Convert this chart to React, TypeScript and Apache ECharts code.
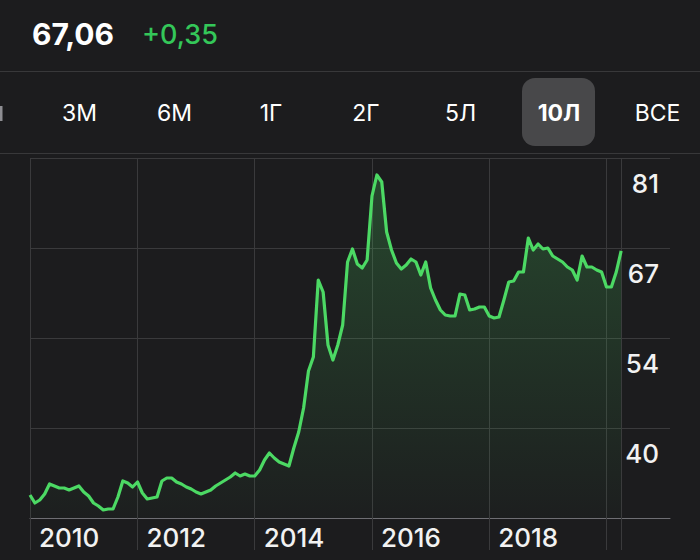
import React, { useEffect, useRef } from "react";
import * as echarts from "echarts";

// Months from 2010-03 to 2021-02 (data runs to 2020-04, axis space continues to the right)
const START_YEAR = 2010;
const START_MONTH = 3;
const MONTH_COUNT = 132;
const months: string[] = [];
for (let i = 0; i < MONTH_COUNT; i++) {
  const m = START_MONTH - 1 + i;
  const y = START_YEAR + Math.floor(m / 12);
  const mo = (m % 12) + 1;
  months.push(`${y}-${String(mo).padStart(2, "0")}`);
}

// Monthly closing values (2010-03 .. 2020-04)
const prices: number[] = [
  30.45, 29.25, 29.7, 30.6, 32.1, 31.8, 31.5, 31.5, 31.2, 31.5,
  31.8, 30.9, 30.3, 29.25, 28.8, 28.2, 28.35, 28.35, 30.15, 32.55,
  32.25, 31.65, 32.4, 30.75, 29.85, 30.0, 30.15, 32.55, 33.0, 33.0,
  32.4, 32.1, 31.65, 31.35, 30.9, 30.6, 30.9, 31.2, 31.8, 32.25,
  32.7, 33.15, 33.75, 33.3, 33.6, 33.3, 33.3, 34.2, 35.7, 36.75,
  36.0, 35.4, 35.1, 34.8, 37.5, 39.9, 43.5, 49.05, 51.15, 62.7,
  60.9, 52.95, 50.7, 52.95, 55.95, 65.4, 67.35, 65.1, 64.5, 65.7,
  75.3, 78.45, 77.4, 69.9, 67.2, 65.25, 64.35, 64.95, 65.85, 65.4,
  63.45, 65.4, 61.5, 59.7, 58.2, 57.45, 57.3, 57.3, 60.6, 60.45,
  58.2, 58.35, 58.65, 58.65, 57.3, 57.0, 57.15, 59.7, 62.4, 62.55,
  63.9, 63.9, 69.0, 67.2, 68.1, 67.35, 67.5, 66.3, 65.85, 65.4,
  64.65, 64.2, 62.7, 66.3, 64.65, 64.65, 64.2, 63.9, 61.65, 61.65,
  63.9, 67.06,
];

const yearLabelMonths: string[] = ["2010-03", "2012-01", "2014-01", "2016-01", "2018-01"];
const gridLineMonths: string[] = ["2010-03", "2012-01", "2014-01", "2016-01", "2018-01", "2020-01", "2020-04"];

const Y_MIN = 27;
const Y_MAX = 81;
const Y_STEP = 13.5;

const headerPrice = "67,06";
const headerChange = "+0,35";
const ranges: string[] = ["3М", "6М", "1Г", "2Г", "5Л", "10Л", "ВСЕ"];
const rangeCenters: number[] = [79.5, 174.5, 271, 366, 460.5, 559, 657.5];
const selectedRange = "10Л";

const FONT = "Inter, Roboto, 'Noto Sans', sans-serif";
const BG = "#1c1c1e";
const GRID = "#3a3a3c";

export default function App() {
  const ref = useRef<HTMLDivElement>(null);

  useEffect(() => {
    document.body.style.margin = "0";
    document.body.style.background = BG;
    if (!ref.current) return;
    const chart = echarts.init(ref.current, undefined, { renderer: "svg" });

    const graphics: any[] = [
      {
        type: "text",
        x: 32,
        y: 34,
        style: { text: headerPrice, fill: "#ffffff", font: `bold 30px ${FONT}`, textVerticalAlign: "middle" },
      },
      {
        type: "text",
        x: 142,
        y: 34,
        style: { text: headerChange, fill: "#34c759", font: `500 27px ${FONT}`, textVerticalAlign: "middle" },
      },
      { type: "line", shape: { x1: 0, y1: 71.5, x2: 700, y2: 71.5 }, style: { stroke: "#38383a", lineWidth: 1 } },
      { type: "line", shape: { x1: 0, y1: 153.5, x2: 700, y2: 153.5 }, style: { stroke: "#38383a", lineWidth: 1 } },
      {
        type: "rect",
        shape: { x: 522, y: 78, width: 73, height: 68, r: 13 },
        style: { fill: "#48484a" },
      },
      // sliver of the previous, scrolled-off range button
      {
        type: "rect",
        shape: { x: 0, y: 106, width: 2.5, height: 15 },
        style: { fill: "#8e8e93" },
      },
    ];
    ranges.forEach((r, i) => {
      graphics.push({
        type: "text",
        x: rangeCenters[i],
        y: 113,
        style: {
          text: r,
          fill: "#ffffff",
          font: `${r === selectedRange ? "bold " : ""}23px ${FONT}`,
          textAlign: "center",
          textVerticalAlign: "middle",
        },
      });
    });

    const showGrid = (_i: number, v: string) => gridLineMonths.indexOf(v) >= 0;
    const showLabel = (_i: number, v: string) => yearLabelMonths.indexOf(v) >= 0;

    chart.setOption({
      animation: false,
      backgroundColor: BG,
      graphic: graphics,
      grid: { left: 30, right: 30, top: 158, bottom: 42, containLabel: false },
      xAxis: {
        type: "category",
        data: months,
        boundaryGap: false,
        axisLine: { show: true, lineStyle: { color: "#6e6e73", width: 1 } },
        axisTick: { show: true, length: 32, interval: showGrid, lineStyle: { color: GRID, width: 1 } },
        splitLine: { show: true, interval: showGrid, lineStyle: { color: GRID, width: 1 } },
        axisLabel: {
          interval: showLabel,
          formatter: (v: string) => v.slice(0, 4),
          align: "left",
          padding: [0, 0, 0, 9],
          margin: 6,
          color: "#f2f2f2",
          fontSize: 26,
          fontWeight: 500,
          fontFamily: FONT,
        },
      },
      yAxis: {
        type: "value",
        position: "right",
        min: Y_MIN,
        max: Y_MAX,
        interval: Y_STEP,
        axisLine: { show: false },
        axisTick: { show: false },
        splitLine: { show: true, lineStyle: { color: GRID, width: 1 } },
        axisLabel: {
          inside: true,
          align: "right",
          margin: 11,
          verticalAlign: "top",
          padding: [12, 0, 0, 0],
          formatter: (v: number) => (v <= Y_MIN ? "" : String(Math.floor(v))),
          color: "#f2f2f2",
          fontSize: 26,
          fontWeight: 500,
          fontFamily: FONT,
        },
      },
      series: [
        {
          type: "line",
          data: prices,
          symbol: "none",
          smooth: false,
          lineStyle: { color: "#4cd964", width: 3.2, join: "round" },
          itemStyle: { color: "#4cd964" },
          areaStyle: {
            origin: "start",
            color: new echarts.graphic.LinearGradient(0, 0, 0, 1, [
              { offset: 0, color: "rgba(76,217,100,0.33)" },
              { offset: 1, color: "rgba(76,217,100,0.02)" },
            ]),
          },
        },
      ],
    });

    return () => chart.dispose();
  }, []);

  return (
    <div
      ref={ref}
      style={{ position: "fixed", left: 0, top: 0, width: 700, height: 560, background: BG }}
    />
  );
}
